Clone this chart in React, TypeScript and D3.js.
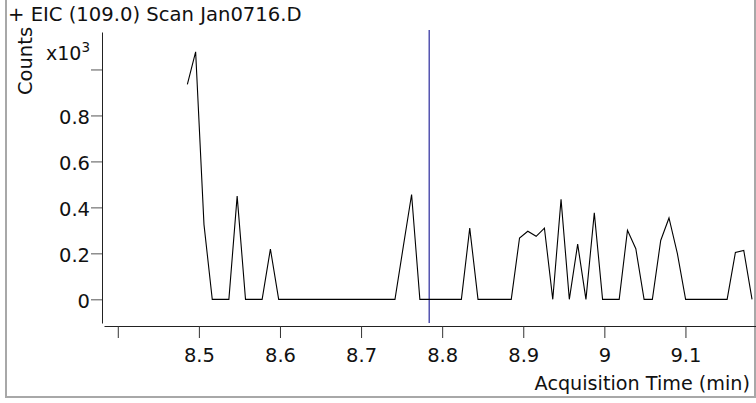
import React, { useEffect, useRef } from "react";
import * as d3 from "d3";

const times = [
  8.4858, 8.496, 8.5063, 8.5165, 8.5268, 8.537, 8.5472, 8.5575, 8.5677, 8.578,
  8.5882, 8.5984, 8.6087, 8.6189, 8.6292, 8.6394, 8.6496, 8.6599, 8.6701, 8.6804,
  8.6906, 8.7008, 8.7111, 8.7213, 8.7316, 8.7418, 8.752, 8.7623, 8.7725, 8.7828,
  8.793, 8.8032, 8.8135, 8.8237, 8.834, 8.8442, 8.8544, 8.8647, 8.8749, 8.8852,
  8.8954, 8.9056, 8.9159, 8.9261, 8.9364, 8.9466, 8.9568, 8.9671, 8.9773, 8.9876,
  8.9978, 9.008, 9.0183, 9.0285, 9.0388, 9.049, 9.0592, 9.0695, 9.0797, 9.09,
  9.1002, 9.1104, 9.1207, 9.1309, 9.1412, 9.1514, 9.1616, 9.1719, 9.1821,
];

const counts = [
  0.935, 1.077, 0.325, 0, 0, 0, 0.449, 0, 0, 0,
  0.219, 0, 0, 0, 0, 0, 0, 0, 0, 0,
  0, 0, 0, 0, 0, 0, 0.228, 0.456, 0, 0,
  0, 0, 0, 0, 0.31, 0, 0, 0, 0, 0,
  0.267, 0.296, 0.274, 0.31, 0, 0.435, 0, 0.24, 0, 0.376,
  0, 0, 0, 0.3, 0.22, 0, 0, 0.256, 0.354, 0.2,
  0, 0, 0, 0, 0, 0, 0.204, 0.213, 0,
];

const markerTimes = [8.784];

const xTickValues = [8.4, 8.5, 8.6, 8.7, 8.8, 8.9, 9.0, 9.1];
const xTickLabels = ["", "8.5", "8.6", "8.7", "8.8", "8.9", "9", "9.1"];
const yTickValues = [0, 0.2, 0.4, 0.6, 0.8, 1.0];
const yTickLabels = ["0", "0.2", "0.4", "0.6", "0.8", ""];

const titleText = "+ EIC (109.0) Scan Jan0716.D";
const xAxisTitle = "Acquisition Time (min)";
const yAxisTitle = "Counts";

const W = 756;
const H = 403;
const FONT = "'DejaVu Sans', Verdana, sans-serif";

export default function App() {
  const xAxisRef = useRef<SVGGElement>(null);
  const yAxisRef = useRef<SVGGElement>(null);

  const x = d3.scaleLinear().domain([8.383, 9.187]).range([104, 756]);
  const y = d3.scaleLinear().domain([-0.103, 1.163]).range([323, 32]);

  useEffect(() => {
    if (xAxisRef.current) {
      const g = d3.select(xAxisRef.current);
      g.selectAll("*").remove();
      g.call(
        d3
          .axisBottom(x)
          .tickValues(xTickValues)
          .tickFormat((_d, i) => xTickLabels[i])
          .tickSize(12)
          .tickSizeOuter(0)
          .tickPadding(10)
      );
      g.select(".domain").attr("stroke", "#222");
      g.selectAll(".tick line").attr("stroke", "#333");
      g.selectAll("text")
        .attr("fill", "#111")
        .style("font-family", FONT)
        .style("font-size", "19.5px");
      g.attr("font-family", null).attr("font-size", null);
    }
    if (yAxisRef.current) {
      const g = d3.select(yAxisRef.current);
      g.selectAll("*").remove();
      g.call(
        d3
          .axisLeft(y)
          .tickValues(yTickValues)
          .tickFormat((_d, i) => yTickLabels[i])
          .tickSize(11)
          .tickSizeOuter(0)
          .tickPadding(1)
      );
      g.select(".domain").attr("stroke", "#222");
      g.selectAll(".tick line").attr("stroke", "#555");
      g.selectAll("text")
        .attr("fill", "#111")
        .attr("dy", "0.42em")
        .style("font-family", FONT)
        .style("font-size", "19.5px");
      g.attr("font-family", null).attr("font-size", null);
    }
  });

  const line = d3
    .line<number>()
    .x((_d, i) => x(times[i]))
    .y((d) => y(d));

  return (
    <svg
      width={W}
      height={H}
      style={{ position: "absolute", left: 0, top: 0, background: "#fff" }}
    >
      <rect x={0} y={0} width={W} height={H} fill="#fff" />
      <rect
        x={6}
        y={-10}
        width={749}
        height={407}
        fill="none"
        stroke="#a8a8a8"
        strokeWidth={2}
      />
      <text x={8} y={21} fontFamily={FONT} fontSize={19.6} fill="#111">
        {titleText}
      </text>
      <text
        transform={`translate(32,61) rotate(-90)`}
        textAnchor="middle"
        fontFamily={FONT}
        fontSize={19.5}
        fill="#111"
      >
        {yAxisTitle}
      </text>
      <text x={46} y={60} fontFamily={FONT} fontSize={19} fill="#111">
        x10
        <tspan fontSize={13.5} dy={-8}>
          3
        </tspan>
      </text>
      <g ref={yAxisRef} transform={`translate(${x(8.383) - 2},0)`} />
      <g ref={xAxisRef} transform={`translate(0,326)`} />
      <text
        x={750}
        y={390}
        textAnchor="end"
        fontFamily={FONT}
        fontSize={19.2}
        fill="#111"
      >
        {xAxisTitle}
      </text>
      {markerTimes.map((t, i) => (
        <line
          key={i}
          x1={x(t)}
          x2={x(t)}
          y1={y(1.163) - 2}
          y2={y(-0.103)}
          stroke="#2b2b9c"
          strokeWidth={1.2}
        />
      ))}
      <path d={line(counts) || ""} fill="none" stroke="#000" strokeWidth={1.1} />
    </svg>
  );
}
